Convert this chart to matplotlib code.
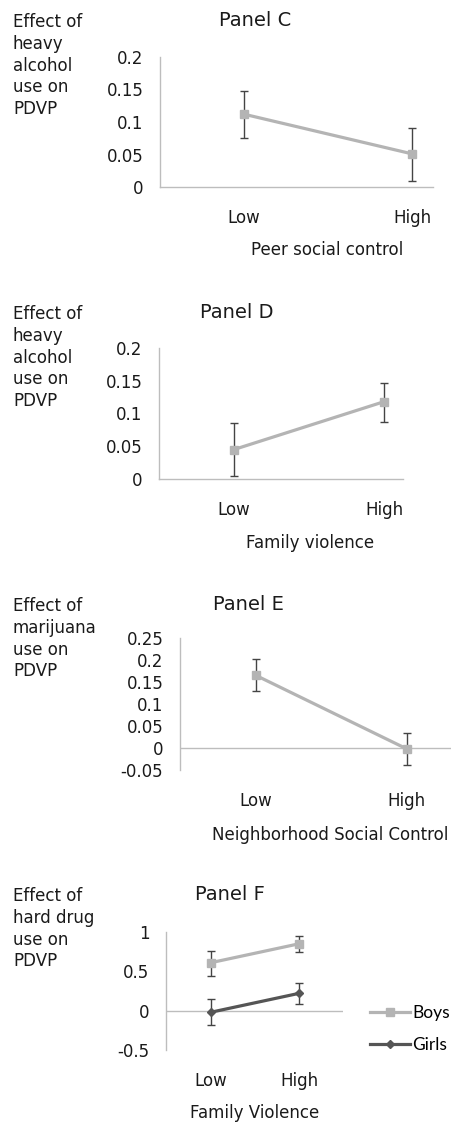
import matplotlib
matplotlib.use("Agg")
import matplotlib.pyplot as plt

plt.rcParams['font.family'] = ['DejaVu Sans']

W, H = 452, 1123
DPI = 100

categories = ["Low", "High"]

# Panel C
c_vals = [0.112, 0.051]
c_lo = [0.076, 0.009]
c_hi = [0.147, 0.091]
# Panel D
d_vals = [0.045, 0.118]
d_lo = [0.005, 0.0875]
d_hi = [0.086, 0.146]
# Panel E
e_vals = [0.165, -0.002]
e_lo = [0.129, -0.038]
e_hi = [0.202, 0.034]
# Panel F
f_boys = [0.61, 0.85]
f_boys_lo = [0.44, 0.74]
f_boys_hi = [0.76, 0.95]
f_girls = [-0.02, 0.22]
f_girls_lo = [-0.18, 0.085]
f_girls_hi = [0.145, 0.35]

c_ticks = [0, 0.05, 0.1, 0.15, 0.2]
c_ticklabels = ["0", "0.05", "0.1", "0.15", "0.2"]
e_ticks = [-0.05, 0, 0.05, 0.1, 0.15, 0.2, 0.25]
e_ticklabels = ["-0.05", "0", "0.05", "0.1", "0.15", "0.2", "0.25"]
f_ticks = [-0.5, 0, 0.5, 1]
f_ticklabels = ["-0.5", "0", "0.5", "1"]

LIGHT = "#b4b4b4"
DARK = "#555555"
ERR = "#444444"
AXC = "#bdbdbd"
TXT = "#1a1a1a"

fig = plt.figure(figsize=(W / DPI, H / DPI), dpi=DPI)
fig.patch.set_facecolor("white")


def box(left, right, top, bottom):
    return [left / W, 1 - bottom / H, (right - left) / W, (bottom - top) / H]


def fx(x):
    return x / W


def fy(y):
    return 1 - y / H


def setup(ax, ylim, ticks, ticklabels, xlim, zero_line=False):
    ax.set_xlim(*xlim)
    ax.set_ylim(*ylim)
    ax.set_yticks(ticks)
    ax.set_yticklabels(ticklabels)
    ax.set_xticks([0, 1])
    ax.set_xticklabels(categories)
    ax.tick_params(axis='y', length=0, pad=12, labelsize=12, labelcolor=TXT)
    ax.tick_params(axis='x', length=0, pad=16, labelsize=12, labelcolor=TXT)
    for s in ["top", "right"]:
        ax.spines[s].set_visible(False)
    ax.spines["left"].set_color(AXC)
    ax.spines["left"].set_linewidth(1.0)
    if zero_line:
        ax.spines["bottom"].set_visible(False)
        ax.axhline(0, color=AXC, lw=1.0, zorder=1)
    else:
        ax.spines["bottom"].set_color(AXC)
        ax.spines["bottom"].set_linewidth(1.0)
    ax.patch.set_alpha(0)


def series(ax, vals, lo, hi, color, marker, ms, label=None):
    x = list(range(len(vals)))
    yerr = [[v - l for v, l in zip(vals, lo)], [h - v for v, h in zip(vals, hi)]]
    ax.errorbar(x, vals, yerr=yerr, fmt='none', ecolor=ERR, elinewidth=1.0,
                capsize=2.8, capthick=1.0, zorder=2)
    ax.plot(x, vals, color=color, lw=2.3, marker=marker, ms=ms,
            mfc=color, mec=color, zorder=3, label=label)


def texts(title, tpos, ylab, ypos, xlab, xpos):
    fig.text(fx(tpos[0]), fy(tpos[1]), title, ha='center', va='center',
             fontsize=14, color=TXT)
    fig.text(fx(ypos[0]), fy(ypos[1]), ylab, ha='left', va='top',
             fontsize=12, color=TXT, linespacing=1.27)
    fig.text(fx(xpos[0]), fy(xpos[1]), xlab, ha='center', va='center',
             fontsize=12, color=TXT)


# Panel C
axC = fig.add_axes(box(160, 433, 57, 187))
setup(axC, (0, 0.2), c_ticks, c_ticklabels, (-0.5, 1.125))
series(axC, c_vals, c_lo, c_hi, LIGHT, 's', 6.4)
texts("Panel C", (255, 20), "Effect of\nheavy\nalcohol\nuse on\nPDVP", (13, 13),
      "Peer social control", (327, 250))

# Panel D
axD = fig.add_axes(box(159, 403, 348, 479))
setup(axD, (0, 0.2), c_ticks, c_ticklabels, (-0.5, 1.127))
series(axD, d_vals, d_lo, d_hi, LIGHT, 's', 6.4)
texts("Panel D", (237, 313), "Effect of\nheavy\nalcohol\nuse on\nPDVP", (13, 305),
      "Family violence", (310, 543))

# Panel E
axE = fig.add_axes(box(180, 452, 638, 770))
setup(axE, (-0.05, 0.25), e_ticks, e_ticklabels, (-0.503, 1.3), zero_line=True)
series(axE, e_vals, e_lo, e_hi, LIGHT, 's', 6.4)
texts("Panel E", (248, 605), "Effect of\nmarijuana\nuse on\nPDVP", (13, 597),
      "Neighborhood Social Control", (330, 835))

# Panel F
axF = fig.add_axes(box(166, 343, 932, 1050))
setup(axF, (-0.5, 1.0), f_ticks, f_ticklabels, (-0.51, 1.5), zero_line=True)
series(axF, f_boys, f_boys_lo, f_boys_hi, LIGHT, 's', 6.4, label="Boys")
series(axF, f_girls, f_girls_lo, f_girls_hi, DARK, 'D', 4.5, label="Girls")
texts("Panel F", (230, 895), "Effect of\nhard drug\nuse on\nPDVP", (13, 887),
      "Family Violence", (255, 1113))
axF.legend(loc='center left', bbox_to_anchor=(fx(370), fy(1029)),
           bbox_transform=fig.transFigure, frameon=False,
           prop={'family': 'Lato', 'size': 12.5},
           handlelength=2.3, handletextpad=0.15, labelspacing=0.95,
           borderaxespad=0, borderpad=0)

fig.savefig("out.png", dpi=DPI, facecolor="white")
